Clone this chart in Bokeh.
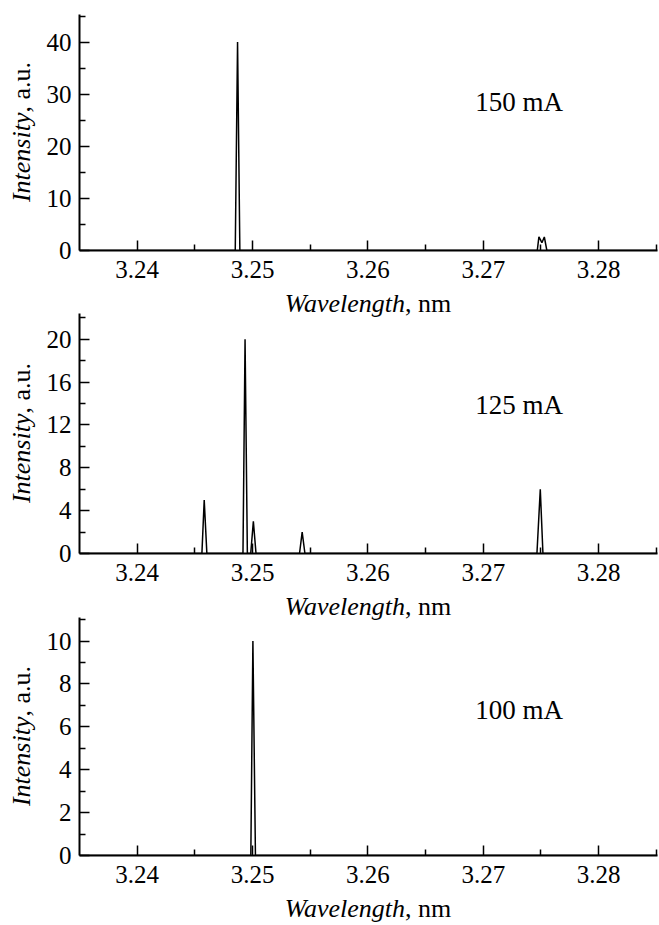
from bokeh.plotting import figure
from bokeh.layouts import column, row
from bokeh.models import FixedTicker, Label, Range1d, Div
from bokeh.embed import file_html
from bokeh.resources import INLINE

# ---- data ----
wl_150 = [3.235, 3.2485, 3.2487, 3.2489, 3.27468, 3.27482, 3.27508, 3.27529, 3.27551, 3.285]
int_150 = [0, 0, 40, 0, 0, 2.6, 1.5, 2.6, 0, 0]

wl_125 = [3.235, 3.24561, 3.24581, 3.24604, 3.24917, 3.24935, 3.24955, 3.24984, 3.25007, 3.25030,
          3.25407, 3.2543, 3.25454, 3.27465, 3.27494, 3.27517, 3.285]
int_125 = [0, 0, 5.0, 0, 0, 20.0, 0, 0, 3.0, 0, 0, 2.0, 0, 0, 6.0, 0, 0]

wl_100 = [3.235, 3.24985, 3.25003, 3.25025, 3.285]
int_100 = [0, 0, 10.0, 0, 0]

x_major = [3.24, 3.25, 3.26, 3.27, 3.28]
x_minor = [3.245, 3.255, 3.265, 3.275, 3.285]
x_labels = {3.24: "3.24", 3.25: "3.25", 3.26: "3.26", 3.27: "3.27", 3.28: "3.28"}

panels = [
    dict(wl=wl_150, inten=int_150, label="150 mA", ymax=45.3, label_y=28.5,
         y_major=[0, 10, 20, 30, 40], y_minor=[5, 15, 25, 35, 45],
         top=14, frame=236, xh=23),
    dict(wl=wl_125, inten=int_125, label="125 mA", ymax=22.4, label_y=13.9,
         y_major=[0, 4, 8, 12, 16, 20], y_minor=[2, 6, 10, 14, 18, 22],
         top=0, frame=240, xh=24),
    dict(wl=wl_100, inten=int_100, label="100 mA", ymax=11.1, label_y=6.8,
         y_major=[0, 2, 4, 6, 8, 10], y_minor=[1, 3, 5, 7, 9, 11],
         top=0, frame=238, xh=29),
]

FONT = "Liberation Serif"
FS = "25px"
BOTTOM = 40
YDIV_W = 40
LEFT = 79 - YDIV_W
FRAME_W = 578

children = []
for i, pan in enumerate(panels):
    h = pan["top"] + pan["frame"] + BOTTOM
    p = figure(width=LEFT + FRAME_W + 2, height=h, output_backend="svg", toolbar_location=None,
               x_range=Range1d(3.235, 3.2851), y_range=Range1d(0, pan["ymax"]),
               min_border_left=LEFT, min_border_right=2, min_border_top=pan["top"],
               min_border_bottom=BOTTOM)
    p.outline_line_color = None
    p.grid.visible = False
    p.background_fill_alpha = 0
    p.border_fill_alpha = 0

    p.line(pan["wl"], pan["inten"], line_color="black", line_width=1.5)

    for ax in (p.xaxis[0], p.yaxis[0]):
        ax.axis_line_width = 2
        ax.axis_line_color = "black"
        ax.major_tick_in = 10
        ax.major_tick_out = 0
        ax.minor_tick_in = 6
        ax.minor_tick_out = 0
        ax.major_tick_line_width = 1.5
        ax.minor_tick_line_width = 1.5
        ax.major_tick_line_color = "black"
        ax.minor_tick_line_color = "black"
        ax.major_label_text_font = FONT
        ax.major_label_text_font_size = FS
        ax.major_label_text_color = "black"
        ax.axis_label = None

    p.xaxis[0].ticker = FixedTicker(ticks=x_major, minor_ticks=x_minor)
    p.xaxis[0].major_label_overrides = x_labels
    p.xaxis[0].major_label_standoff = 10
    p.yaxis[0].ticker = FixedTicker(ticks=pan["y_major"], minor_ticks=pan["y_minor"])
    p.yaxis[0].major_label_standoff = 8

    p.add_layout(Label(x=3.2693, y=pan["label_y"], text=pan["label"], text_font=FONT,
                       text_font_size="27px", text_align="left", text_baseline="middle",
                       text_color="black"))

    # y axis title (italic + upright parts) in a side Div, rotated
    center = pan["top"] + pan["frame"] / 2
    W = 220
    ytxt = ('<div style="width:%dpx; height:26px; line-height:26px; text-align:center; '
            'white-space:nowrap; font-family:\'Liberation Serif\', serif; font-size:26px; color:black; '
            'transform-origin:0 0; transform: translate(9px, %.1fpx) rotate(-90deg);">'
            '<i>Intensity</i>, a.u.</div>') % (W, center + W / 2)
    yd = Div(text=ytxt, width=YDIV_W, height=h, margin=(0, 0, 0, 0))

    # x axis title below the figure
    xtxt = ('<div style="margin-left:79px; width:%dpx; padding-top:1px; line-height:26px; '
            'text-align:center; white-space:nowrap; font-family:\'Liberation Serif\', serif; '
            'font-size:26px; color:black;"><i>Wavelength</i>, nm</div>') % FRAME_W
    xd = Div(text=xtxt, width=659, height=pan["xh"], margin=(0, 0, 0, 0))

    children.append(row(yd, p, spacing=0))
    children.append(xd)

layout = column(*children, spacing=0)
open("out.html", "w").write(file_html(layout, INLINE))
